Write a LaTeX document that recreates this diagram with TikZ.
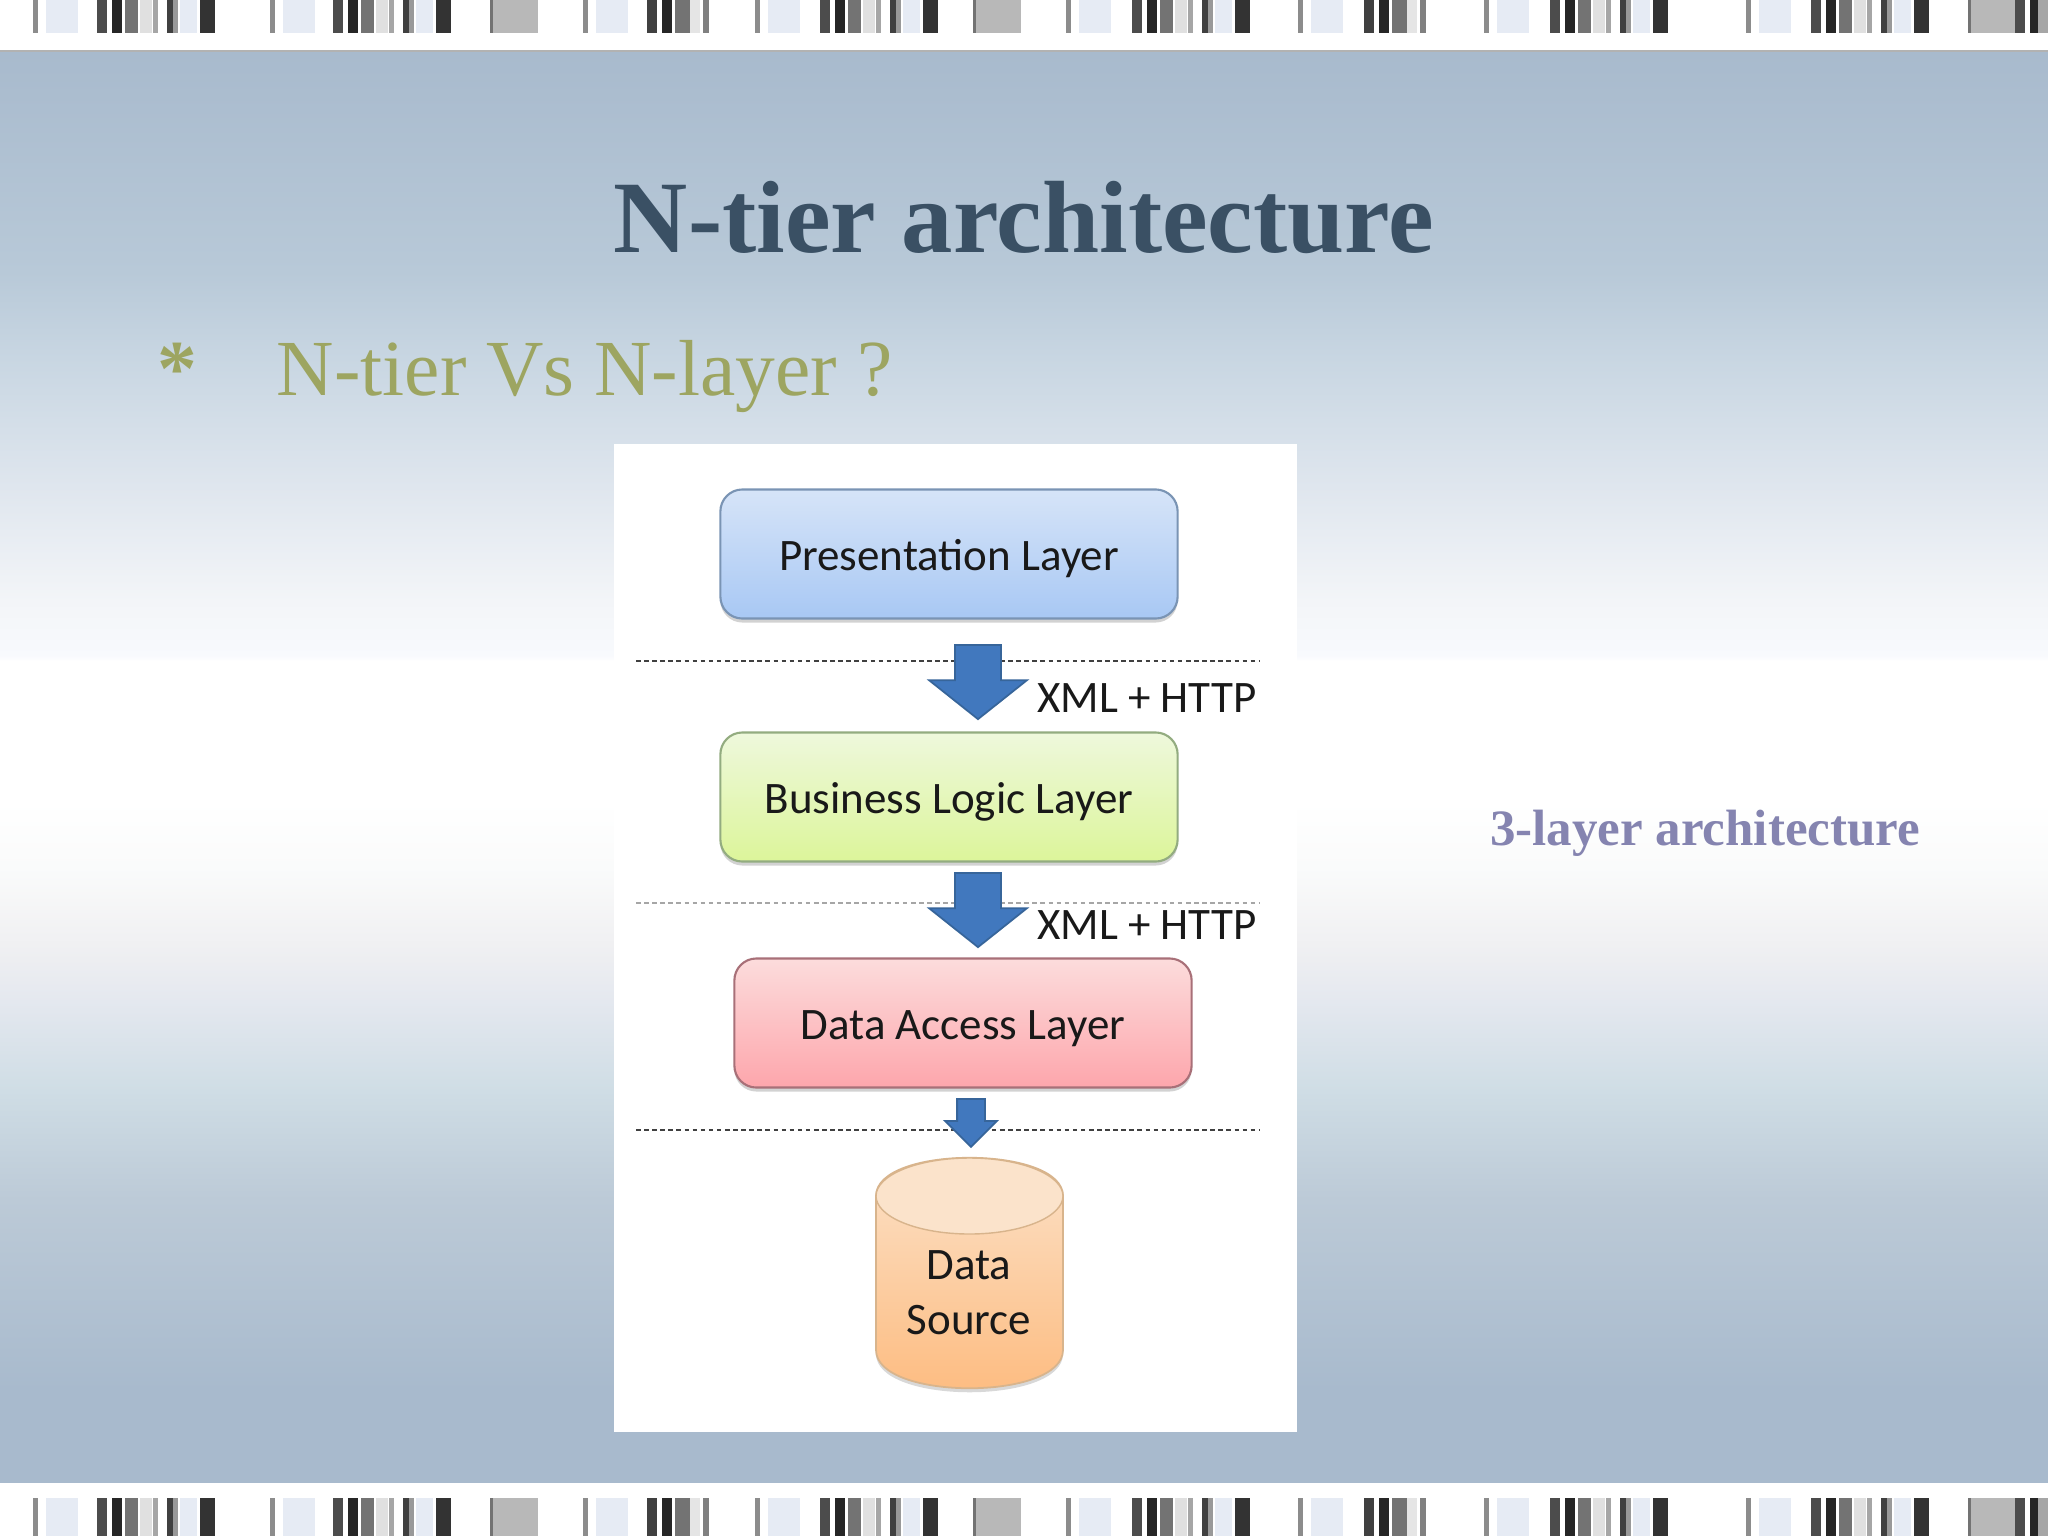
\documentclass[tikz,border=0pt]{standalone}
\usepackage{fontspec}
\setmainfont{Liberation Serif}
\newfontfamily\boxfont{Carlito}
\usetikzlibrary{positioning,shapes.arrows,shadows}
\definecolor{titlecol}{HTML}{3A5064}
\definecolor{bulletcol}{HTML}{9DA561}
\definecolor{captioncol}{HTML}{8584B0}
\definecolor{arrowcol}{HTML}{4178BE}
\definecolor{arrowedge}{HTML}{37659A}
\definecolor{palebar}{HTML}{E6EBF4}
\definecolor{bgA}{HTML}{A8BACD}
\definecolor{bgB}{HTML}{BCCAD7}
\definecolor{bgC}{HTML}{CFDDE5}
\definecolor{bgD}{HTML}{E4E8EF}
\definecolor{bgE}{HTML}{F0F0F2}
\definecolor{bgF}{HTML}{FAFBFB}
\definecolor{bgG}{HTML}{F8FAFD}
\definecolor{bgH}{HTML}{F3F5F8}
\definecolor{bgI}{HTML}{DFE6EE}
\definecolor{bgJ}{HTML}{C8D6E2}
\definecolor{bgK}{HTML}{B8C9D8}
\pgfdeclareverticalshading{slidebg}{100bp}{
	color(0bp)=(bgA); color(28.2bp)=(bgA); color(34.9bp)=(bgB); color(38.7bp)=(bgC);
	color(41.8bp)=(bgD); color(43.8bp)=(bgE); color(46.5bp)=(bgF); color(48.8bp)=(white);
	color(53.7bp)=(white); color(53.9bp)=(bgG); color(55.8bp)=(bgH); color(59.8bp)=(bgI);
	color(64.3bp)=(bgJ); color(67.3bp)=(bgK); color(75bp)=(bgA); color(100bp)=(bgA)}
\tikzset{
	layerbox/.style={rounded corners=0.22cm, minimum width=4.57cm, minimum height=1.29cm, line width=0.6pt, font=\boxfont\fontsize{12.8}{15}\selectfont, text=black!90, text height=9.6pt, text depth=0pt, drop shadow={shadow xshift=0cm, shadow yshift=-0.04cm, opacity=0.35}},
	tierline/.style={dash pattern=on 1.3pt off 1pt, line width=0.6pt},
	protolabel/.style={font=\boxfont\fontsize{12.8}{15}\selectfont, text=black!90},
	blockarrow/.style={single arrow, shape border rotate=270, fill=arrowcol, draw=arrowedge, line width=0.5pt, inner sep=0.22cm, minimum height=0.74cm, single arrow head extend=0.26cm, single arrow tip angle=103}
}
% one group of stripes, #1 = left edge, #2 = top, #3 = bottom
\newcommand{\stripegroup}[3]{
	\foreach \bx/\bw/\bc in {0/10/black!70, 15/10/black!85, 28/13/black!55, 43/12/black!12, 56/5/black!35, 70/6/black!75, 76/5/black!40, 83/17/palebar, 103/15/black!80}
		\fill[\bc] (#1+\bx, #2) rectangle (#1+\bx+\bw, #3);
}
% short stripes
\newcommand{\shortgroup}[3]{
	\foreach \bx/\bw/\bc in {0/10/black!75, 15/10/black!85, 28/15/black!55, 43/10/black!10, 56/6/black!50}
		\fill[\bc] (#1+\bx, #2) rectangle (#1+\bx+\bw, #3);
}
% one stripe band
\newcommand{\stripeband}[2]{
	\foreach \x in {97,333,820,1132,1550,1811}
		\stripegroup{\x}{#1}{#2}
	\foreach \x in {647,1364}
		\shortgroup{\x}{#1}{#2}
	\foreach \x in {33,270,583,755,1066,1298,1484,1746} {
		\fill[black!45] (\x, #1) rectangle (\x+5, #2);
		\fill[palebar] (\x+13, #1) rectangle (\x+45, #2);
	}
	\foreach \x in {490,973,1968} {
		\fill[black!28] (\x, #1) rectangle (\x+48, #2);
		\fill[black!55] (\x, #1) rectangle (\x+3, #2);
	}
	\fill[black!70] (2015, #1) rectangle (2025, #2);
	\fill[black!85] (2030, #1) rectangle (2038, #2);
	\fill[black!35] (2038, #1) rectangle (2048, #2);
}
\begin{document}
\begin{tikzpicture}[x=0.01cm, y=-0.01cm]
	\useasboundingbox (0,0) rectangle (2048,1536);
	% Hintergrund
	\fill[white] (0,0) rectangle (2048,1536);
	\shade[shading=slidebg] (0,52) rectangle (2048,1482);
	\draw[black!30, line width=0.6pt] (0,51) -- (2048,51);
	% Streifen
	\stripeband{0}{33}
	\stripeband{1498}{1536}
	% Texte
	\node[anchor=base, inner sep=0pt] (title) at (1024,252) {\fontsize{29.2}{35}\selectfont\bfseries\color{titlecol} N-tier architecture};
	\node[inner sep=0pt] (bullet) at (177,369) {\fontsize{22.6}{27}\selectfont\bfseries\color{bulletcol} *};
	\node[anchor=base west, inner sep=0pt] (question) at (276,395) {\fontsize{22.6}{27}\selectfont\color{bulletcol} N-tier Vs N-layer ?};
	\node[inner sep=0pt] (caption) at (1705,833) {\fontsize{14.5}{17}\selectfont\bfseries\color{captioncol} 3-layer architecture};
	% Bild
	\fill[white] (614,444) rectangle (1297,1432);
	\coordinate (tierAleft) at (636,661);
	\coordinate (tierAright) at (1260,661);
	\coordinate (tierBleft) at (636,903);
	\coordinate (tierBright) at (1260,903);
	\coordinate (tierCleft) at (636,1130);
	\coordinate (tierCright) at (1260,1130);
	\draw[tierline, black!75] (tierAleft) -- (tierAright);
	\draw[tierline, black!35] (tierBleft) -- (tierBright);
	\draw[tierline, black!75] (tierCleft) -- (tierCright);
	% Schichten
	\definecolor{blueedge}{HTML}{7A94B4}
	\definecolor{bluetop}{HTML}{D6E4F8}
	\definecolor{bluebot}{HTML}{A8C8F4}
	\definecolor{greenedge}{HTML}{93AC80}
	\definecolor{greentop}{HTML}{EEF8DC}
	\definecolor{greenbot}{HTML}{DCF59A}
	\definecolor{rededge}{HTML}{A87078}
	\definecolor{redtop}{HTML}{FCDCDC}
	\definecolor{redbot}{HTML}{FDA6AC}
	\node[layerbox, draw=blueedge, top color=bluetop, bottom color=bluebot] (presentation) at (949,554) {Presentation Layer};
	\node[layerbox, draw=greenedge, top color=greentop, bottom color=greenbot] (business) at (949,797) {Business Logic Layer};
	\node[layerbox, draw=rededge, top color=redtop, bottom color=redbot] (access) at (963,1023) {Data Access Layer};
	% Pfeile
	\node[blockarrow] (arrowA) at (978,673) {};
	\node[blockarrow] (arrowB) at (978,901) {};
	\node[blockarrow, inner sep=0.13cm, minimum height=0.48cm, single arrow head extend=0.12cm, single arrow tip angle=90] (arrowC) at (971,1116) {};
	\node[protolabel, inner sep=0pt] (protoA) at (1147,698) {XML + HTTP};
	\node[protolabel, inner sep=0pt] (protoB) at (1147,925) {XML + HTTP};
	% Datenquelle
	\definecolor{drumedge}{HTML}{D8B48C}
	\definecolor{drumtop}{HTML}{FBE3CB}
	\definecolor{drumbot}{HTML}{FDBB7F}
	\draw[drumedge, line width=0.5pt, top color=drumtop, bottom color=drumbot, drop shadow={shadow xshift=0cm, shadow yshift=-0.04cm, opacity=0.3}]
		(876,1196) -- (876,1350) .. controls (876,1401) and (1063,1401) .. (1063,1350) -- (1063,1196) .. controls (1063,1145) and (876,1145) .. (876,1196) -- cycle;
	\draw[drumedge, line width=0.4pt, fill=drumtop] (969.5,1196) ellipse (93.5 and 38);
	\node[protolabel, inner sep=0pt, align=center, font=\boxfont\fontsize{12.8}{15.6}\selectfont] (source) at (969,1293) {Data\\Source};
\end{tikzpicture}
\end{document}
